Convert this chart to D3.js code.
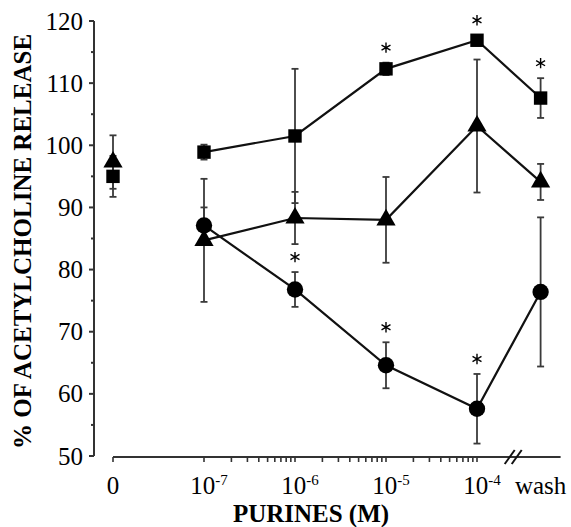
<!DOCTYPE html>
<html>
<head>
<meta charset="utf-8">
<script src="https://cdn.jsdelivr.net/npm/d3@7"></script>
<style>
  body { margin: 0; background: #fff; }
  svg { display: block; }
</style>
</head>
<body>
<svg id="canvas" width="571" height="527"></svg>
<script>
// x categories: "0" control, four concentrations (M), then washout
let doseLabels = ['0', '-7', '-6', '-5', '-4', 'wash'];
let dosePlot = [1e-8, 1e-7, 1e-6, 1e-5, 1e-4, 5e-4];   // where each category sits on the log axis

let yTicks = [50, 60, 70, 80, 90, 100, 110, 120];

// % of acetylcholine release, mean and error
let squareMean = [95, 98.9, 101.5, 112.3, 116.9, 107.6];
let squareErr  = [3.3, 1.2, 10.8, 1.0, 0.8, 3.2];
let squareStar = [false, false, false, true, true, true];

let triMean = [97.3, 84.7, 88.3, 88.0, 103.1, 94.1];
let triErr  = [4.3, 9.9, 4.2, 6.9, 10.7, 2.9];

let circleMean = [null, 87.1, 76.8, 64.6, 57.6, 76.4];
let circleErr  = [null, 2.9, 2.8, 3.7, 5.6, 12.0];
let circleStar = [false, false, true, true, true, false];

let serif = 'Liberation Serif';

let canvas = d3.select('#canvas').attr('font-family', serif);

let xScale = d3.scaleLog().domain([1e-8, 1e-4]).range([113, 477]);
let yScale = d3.scaleLinear().domain([50, 120]).range([456, 21]);

let axisColor = '#333';

// ---- y axis
let yAxis = canvas.append('g');
yAxis.append('line')
    .attr('x1', 94).attr('x2', 94)
    .attr('y1', yScale(120)).attr('y2', yScale(50))
    .attr('stroke', axisColor).attr('stroke-width', 2);

yAxis.selectAll('.major')
    .data(yTicks)
    .enter()
    .append('line')
    .attr('x1', 89).attr('x2', 94)
    .attr('y1', (d) => yScale(d)).attr('y2', (d) => yScale(d))
    .attr('stroke', axisColor).attr('stroke-width', 2);

yAxis.selectAll('.minor')
    .data(yTicks.slice(0, -1).map((d) => d + 5))
    .enter()
    .append('line')
    .attr('x1', 91).attr('x2', 94)
    .attr('y1', (d) => yScale(d)).attr('y2', (d) => yScale(d))
    .attr('stroke', axisColor).attr('stroke-width', 2);

yAxis.selectAll('text')
    .data(yTicks)
    .enter()
    .append('text')
    .attr('font-family', serif)
    .attr('x', 83)
    .attr('y', (d) => yScale(d))
    .attr('dy', '0.34em')
    .attr('text-anchor', 'end')
    .attr('font-size', 25)
    .text((d) => d);

canvas.append('text')
    .attr('font-family', serif)
    .attr('transform', 'translate(31,' + (yScale(85) + 3) + ') rotate(-90)')
    .attr('text-anchor', 'middle')
    .attr('font-size', 25)
    .attr('font-weight', 'bold')
    .text('% OF ACETYLCHOLINE RELEASE');

// ---- x axis
let axisY = yScale(50) + 1;
let xAxis = canvas.append('g');
let axisEnd = xScale(dosePlot[5]) + 20;
let breakX = xScale(2.5e-4);

xAxis.append('line')
    .attr('x1', xScale(dosePlot[0])).attr('x2', axisEnd)
    .attr('y1', axisY).attr('y2', axisY)
    .attr('stroke', axisColor).attr('stroke-width', 2);

// log ticks between 1e-7 and 1e-4, plus the control tick
let logTicks = [dosePlot[0]];
for (let e = -7; e < -4; e++) {
    for (let m = 1; m < 10; m++) {
        logTicks.push(m * Math.pow(10, e));
    }
}
logTicks.push(1e-4);

xAxis.selectAll('.tick')
    .data(logTicks)
    .enter()
    .append('line')
    .attr('x1', (d) => xScale(d)).attr('x2', (d) => xScale(d))
    .attr('y1', axisY).attr('y2', axisY + 5)
    .attr('stroke', axisColor).attr('stroke-width', 1.6);

// axis break "//"
xAxis.selectAll('.brk')
    .data([-3.5, 3.5])
    .enter()
    .append('line')
    .attr('x1', (d) => breakX + d - 5).attr('x2', (d) => breakX + d + 5)
    .attr('y1', axisY + 7).attr('y2', axisY - 7)
    .attr('stroke', '#111').attr('stroke-width', 2);

let labels = xAxis.selectAll('.lab')
    .data(doseLabels)
    .enter()
    .append('text')
    .attr('font-family', serif)
    .attr('x', (d, i) => xScale(dosePlot[i]))
    .attr('y', 494)
    .attr('font-size', 25)
    .attr('text-anchor', 'middle');

labels.each(function (d, i) {
    let t = d3.select(this);
    if (d === '0' || d === 'wash') {
        t.text(d);
    } else {
        t.attr('dx', 5);
        t.append('tspan').text('10');
        t.append('tspan').attr('font-size', 15).attr('dy', -9).text(d);
    }
});

canvas.append('text')
    .attr('font-family', serif)
    .attr('x', 311)
    .attr('y', 522)
    .attr('text-anchor', 'middle')
    .attr('font-size', 25)
    .attr('font-weight', 'bold')
    .text('PURINES (M)');

// ---- series
let toPoints = (means, errs) => means.map((m, i) => ({
    x: xScale(dosePlot[i]), mean: m, err: errs[i], i: i
})).filter((p) => p.mean !== null);

let drawErrors = (pts) => {
    let g = canvas.append('g').attr('stroke', '#3a3a3a').attr('stroke-width', 1.8);
    pts.forEach((p) => {
        let top = yScale(p.mean + p.err);
        let bot = yScale(p.mean - p.err);
        g.append('line').attr('x1', p.x).attr('x2', p.x).attr('y1', top).attr('y2', bot);
        g.append('line').attr('x1', p.x - 3.5).attr('x2', p.x + 3.5).attr('y1', top).attr('y2', top);
        g.append('line').attr('x1', p.x - 3.5).attr('x2', p.x + 3.5).attr('y1', bot).attr('y2', bot);
    });
};

let lineGen = d3.line().x((p) => p.x).y((p) => yScale(p.mean));

let drawLine = (pts) => {
    canvas.append('path')
        .attr('d', lineGen(pts))
        .attr('fill', 'none')
        .attr('stroke', '#111')
        .attr('stroke-width', 2.2);
};

let drawMarks = (pts, type, size) => {
    canvas.append('g')
        .selectAll('path')
        .data(pts)
        .enter()
        .append('path')
        .attr('transform', (p) => 'translate(' + p.x + ',' + yScale(p.mean) + ')')
        .attr('d', d3.symbol(type, size))
        .attr('fill', '#000');
};

// significance marks, drawn as asterisk symbols above the error bar
let drawStars = (pts, flags) => {
    canvas.append('g')
        .selectAll('path')
        .data(pts.filter((p) => flags[p.i]))
        .enter()
        .append('path')
        .attr('transform', (p) => 'translate(' + p.x + ',' + (yScale(p.mean + p.err) - 15) + ')')
        .attr('d', d3.symbol(d3.symbolAsterisk, 75))
        .attr('fill', 'none')
        .attr('stroke', '#000')
        .attr('stroke-width', 1.4);
};

let squares = toPoints(squareMean, squareErr);
let triangles = toPoints(triMean, triErr);
let circles = toPoints(circleMean, circleErr);

drawErrors(squares);
drawErrors(triangles);
drawErrors(circles);

// control point at 0 is not joined to the rest
drawLine(squares.slice(1));
drawLine(triangles.slice(1));
drawLine(circles);

drawMarks(squares, d3.symbolSquare, 180);
drawMarks(triangles, d3.symbolTriangle, 160);
drawMarks(circles, d3.symbolCircle, 210);

drawStars(squares, squareStar);
drawStars(circles, circleStar);
</script>
</body>
</html>
